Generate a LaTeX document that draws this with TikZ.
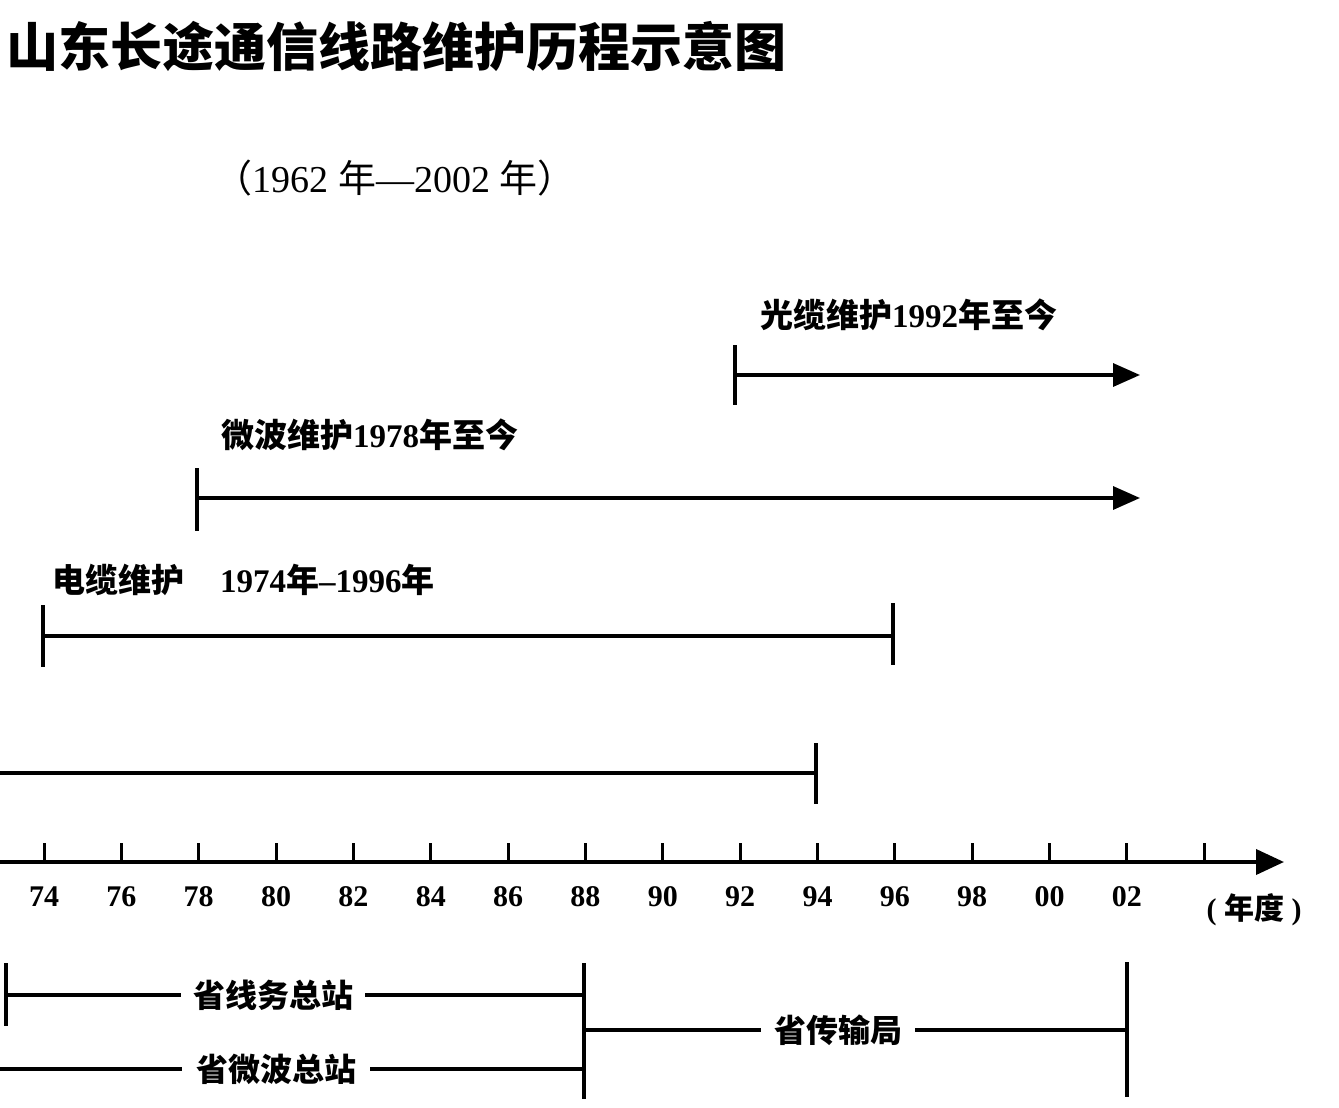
\documentclass[tikz,border=0pt]{standalone}
\usepackage{fontspec}
\setmainfont{Liberation Serif}
\newfontfamily\cjk{Noto Sans CJK SC}
\usetikzlibrary{arrows.meta}
\newcommand\zh[1]{{\cjk #1}}
\tikzset{
  bar/.style={line width=3.4pt, black},
  endtick/.style={line width=3.4pt, black},
  arr/.style={bar, -{Triangle[length=27pt,width=23pt]}},
  lbl/.style={anchor=west, inner sep=0pt, font=\bfseries\fontsize{33}{33}\selectfont},
  yr/.style={inner sep=0pt, font=\bfseries\fontsize{30}{30}\selectfont},
  org/.style={inner sep=0pt, font=\bfseries\fontsize{32}{32}\selectfont}
}
\begin{document}
\begin{tikzpicture}[x=1pt,y=-1pt]
\useasboundingbox (0,0) rectangle (1339,1108);
% title
\node[anchor=west, inner sep=0pt] (title) at (6,46) {\cjk\bfseries\fontsize{52}{52}\selectfont 山东长途通信线路维护历程示意图};
\node[inner sep=0pt] (sub) at (395,178) {\fontsize{38}{38}\selectfont \zh{（}1962 \zh{年}—2002 \zh{年}\zh{）}};

% fibre optic 1992 ->
\node[lbl] (l1) at (760,315) {\zh{光缆维护}1992\zh{年至今}};
\coordinate (a1t) at (735,345); \coordinate (a1b) at (735,405);
\coordinate (a1s) at (735,375); \coordinate (a1e) at (1140,375);
\draw[endtick] (a1t) -- (a1b);
\draw[arr] (a1s) -- (a1e);

% microwave 1978 ->
\node[lbl] (l2) at (221,435) {\zh{微波维护}1978\zh{年至今}};
\coordinate (a2t) at (197,468); \coordinate (a2b) at (197,531);
\coordinate (a2s) at (197,498); \coordinate (a2e) at (1140,498);
\draw[endtick] (a2t) -- (a2b);
\draw[arr] (a2s) -- (a2e);

% cable 1974-1996
\node[lbl] (l3) at (52,580) {\zh{电缆维护}\hspace{36pt}1974\zh{年}–1996\zh{年}};
\coordinate (a3t) at (43,605); \coordinate (a3b) at (43,667);
\coordinate (a3s) at (43,636); \coordinate (a3e) at (893,636);
\coordinate (a3et) at (893,603); \coordinate (a3eb) at (893,665);
\draw[endtick] (a3t) -- (a3b);
\draw[endtick] (a3et) -- (a3eb);
\draw[bar] (a3s) -- (a3e);

% fourth line -> 1994
\coordinate (a4s) at (0,773); \coordinate (a4e) at (816,773);
\coordinate (a4t) at (816,743); \coordinate (a4b) at (816,804);
\draw[bar] (a4s) -- (a4e);
\draw[endtick] (a4t) -- (a4b);

% axis
\coordinate (ax0) at (0,862); \coordinate (ax1) at (1284,862);
\draw[line width=3.8pt, -{Triangle[length=28pt,width=25pt]}] (ax0) -- (ax1);
\foreach \i/\lab in {0/74,1/76,2/78,3/80,4/82,5/84,6/86,7/88,8/90,9/92,10/94,11/96,12/98,13/00,14/02}{
  \coordinate (t\i) at ({44+\i*77.35},843);
  \coordinate (b\i) at ({44+\i*77.35},862);
  \draw[line width=3pt] (t\i) -- (b\i);
  \node[yr] (y\i) at ({44+\i*77.35},897) {\lab};
}
\coordinate (t15) at ({44+15*77.35},843);
\coordinate (b15) at ({44+15*77.35},862);
\draw[line width=3pt] (t15) -- (b15);
\node[yr] (unit) at (1254,910) {( \zh{年度} )};

% bottom organisations
\coordinate (o1t) at (6,963); \coordinate (o1b) at (6,1026);
\draw[endtick] (o1t) -- (o1b);
\node[org] (s1) at (273,995) {\zh{省线务总站}};
\coordinate (s1l) at (6,995); \coordinate (s1r) at (584,995);
\draw[bar] (s1l) -- ([xshift=-12pt]s1.west);
\draw[bar] ([xshift=12pt]s1.east) -- (s1r);

\node[org] (s2) at (276,1069) {\zh{省微波总站}};
\coordinate (s2l) at (0,1069); \coordinate (s2r) at (584,1069);
\draw[bar] (s2l) -- ([xshift=-14pt]s2.west);
\draw[bar] ([xshift=14pt]s2.east) -- (s2r);

\coordinate (o2t) at (584,963); \coordinate (o2b) at (584,1099);
\draw[endtick] (o2t) -- (o2b);

\node[org] (s3) at (838,1030) {\zh{省传输局}};
\coordinate (s3l) at (584,1030); \coordinate (s3r) at (1127,1030);
\draw[bar] (s3l) -- ([xshift=-13pt]s3.west);
\draw[bar] ([xshift=13pt]s3.east) -- (s3r);
\coordinate (o3t) at (1127,962); \coordinate (o3b) at (1127,1097);
\draw[endtick] (o3t) -- (o3b);
\end{tikzpicture}
\end{document}
